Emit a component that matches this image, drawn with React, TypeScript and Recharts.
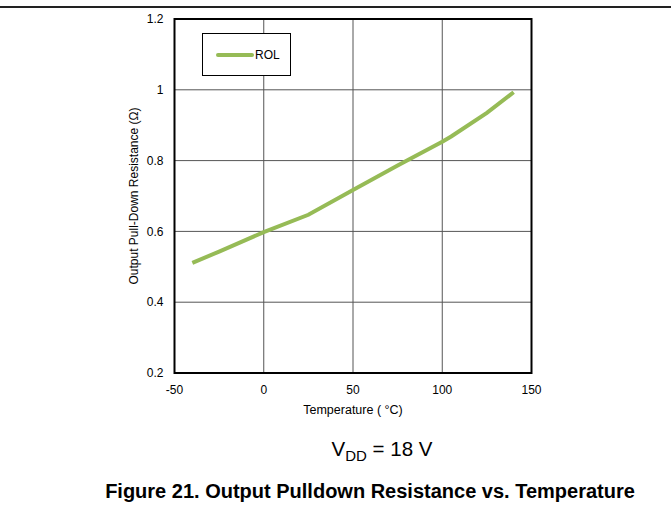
import React from 'react';
import { LineChart, Line, XAxis, YAxis, CartesianGrid, ReferenceArea, Label } from 'recharts';

const temperature = [-40, -25, 0, 25, 50, 75, 100, 105, 125, 140];
const rol = [0.511, 0.543, 0.598, 0.647, 0.717, 0.786, 0.853, 0.868, 0.935, 0.993];
const xTicks = [-50, 0, 50, 100, 150];
const yTicks = [0.2, 0.4, 0.6, 0.8, 1, 1.2];

const data = temperature.map((t, i) => ({ t, rol: rol[i] }));

const FONT = '"Liberation Sans", Arial, sans-serif';
const GREEN = '#96bb56';

export default function App() {
  return (
    <div style={{ position: 'absolute', left: 0, top: 0, width: 671, height: 514, background: '#fff', fontFamily: FONT }}>
      <div style={{ position: 'absolute', left: 0, top: 6, width: 671, height: 1.5, background: '#222' }} />
      <LineChart width={671} height={514} data={data} margin={{ top: 19, right: 139.5, bottom: 0, left: 0 }}>
        <CartesianGrid stroke="#555" strokeWidth={1} />
        <XAxis
          dataKey="t"
          type="number"
          domain={[-50, 150]}
          ticks={xTicks}
          height={141}
          tickLine={false}
          axisLine={false}
          tickSize={0}
          tickMargin={12}
          tick={{ fontSize: 12, fill: '#000', fontFamily: FONT }}
        >
          <Label value="Temperature ( °C)" position="insideTop" offset={32} style={{ fontSize: 12.5, fill: '#000', fontFamily: FONT }} />
        </XAxis>
        <YAxis
          type="number"
          domain={[0.2, 1.2]}
          ticks={yTicks}
          width={174.5}
          tickLine={false}
          axisLine={false}
          tickSize={0}
          tickMargin={11}
          tickFormatter={(v: number) => String(v)}
          tick={{ fontSize: 12, fill: '#000', fontFamily: FONT }}
        >
          <Label
            value="Output Pull-Down Resistance (Ω)"
            angle={-90}
            position="center"
            dx={46}
            style={{ fontSize: 12, fill: '#000', fontFamily: FONT, textAnchor: 'middle' }}
          />
        </YAxis>
        <ReferenceArea x1={-50} x2={150} y1={0.2} y2={1.2} fill="none" stroke="#000" strokeWidth={2} ifOverflow="visible" />
        <Line
          dataKey="rol"
          name="ROL"
          type="linear"
          stroke={GREEN}
          strokeWidth={4}
          dot={false}
          isAnimationActive={false}
        />
      </LineChart>
      <div
        style={{
          position: 'absolute',
          left: 202,
          top: 33,
          width: 87,
          height: 41,
          border: '1.5px solid #000',
          background: '#fff',
          display: 'flex',
          alignItems: 'center',
          fontSize: 12,
          color: '#000',
        }}
      >
        <div style={{ marginLeft: 13, width: 38, height: 4, borderRadius: 2, background: GREEN }} />
        <span style={{ marginLeft: 1 }}>ROL</span>
      </div>
      <div style={{ position: 'absolute', left: 0, width: 671, top: 437, textAlign: 'center', fontSize: 20.5, color: '#000', paddingLeft: 93, boxSizing: 'border-box' }}>
        V<sub style={{ fontSize: 15, verticalAlign: 'baseline', position: 'relative', top: 5 }}>DD</sub> = 18 V
      </div>
      <div style={{ position: 'absolute', left: 0, width: 671, top: 480, textAlign: 'center', fontSize: 20, fontWeight: 'bold', color: '#000', paddingLeft: 69, boxSizing: 'border-box' }}>
        Figure 21. Output Pulldown Resistance vs. Temperature
      </div>
    </div>
  );
}
